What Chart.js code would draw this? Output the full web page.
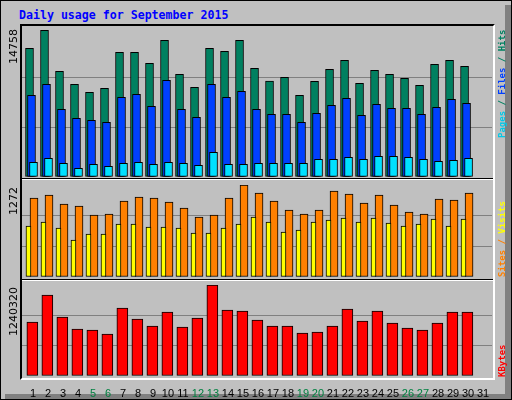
<!DOCTYPE html>
<html><head><meta charset="utf-8">
<script src="https://cdn.jsdelivr.net/npm/chart.js@4"></script>
<style>
html,body{margin:0;padding:0;background:#fff}
#wrap{position:relative;width:510px;height:398px;background:#C0C0C0;border:1px solid #000;overflow:hidden}
#bevR{position:absolute;left:504px;top:4px;width:6px;height:394px;background:#808080}
#bevB{position:absolute;left:4px;top:393px;width:506px;height:5px;background:#808080}
#title{position:absolute;left:18px;top:7px;font:bold 11.6px "DejaVu Sans Mono",monospace;color:#0000FF;white-space:pre}
#frame{position:absolute;left:19px;top:23px;width:471px;height:352px;border-top:2px solid #000;border-left:2px solid #000;border-bottom:2px solid #fff;border-right:2px solid #fff;background:#C0C0C0}
.sep{position:absolute;left:21px;width:471px;height:1px}
canvas{position:absolute;left:0}
</style></head><body>
<div id="wrap">
<div id="bevR"></div><div id="bevB"></div>
<div id="title">Daily usage for September 2015</div>
<div id="frame"></div>
<div class="sep" style="top:177px;background:#000"></div><div class="sep" style="top:178px;background:#fff"></div>
<div class="sep" style="top:278px;background:#000"></div><div class="sep" style="top:279px;background:#fff"></div>
<canvas id="c1" style="top:26px" width="512" height="150"></canvas>
<canvas id="c2" style="top:184px" width="512" height="92"></canvas>
<canvas id="c3" style="top:284px" width="512" height="115"></canvas>
</div>
<script>
const days=[1,2,3,4,5,6,7,8,9,10,11,12,13,14,15,16,17,18,19,20,21,22,23,24,25,26,27,28,29,30,31];
const weekend=[5,6,12,13,19,20,26,27];
const hits=[12659,14430,10396,9117,8330,8724,12266,12266,11183,13446,10101,8822,12659,12364,13446,10691,9445,9806,8035,9412,10593,11479,9216,10494,10101,9708,9019,11085,11479,10888,0];
const files=[8035,9117,6657,5772,5575,5379,7838,8133,6953,9511,6657,5870,9117,7838,8429,6657,6166,6166,5379,6264,7051,7740,6067,7149,6756,6756,6166,6854,7641,7248,0];
const pages=[1443,1837,1345,853,1246,1049,1345,1443,1246,1443,1345,1148,2427,1246,1246,1345,1345,1345,1345,1738,1738,1935,1738,2033,2033,1935,1738,1541,1640,1837,0];
const visits=[1092,1134,1009,982,857,871,1051,1106,1092,1037,954,830,857,1092,1272,1161,1051,926,871,926,1189,1148,1023,1134,995,899,871,1078,1065,1161,0];
const sites=[705,760,677,512,595,595,733,733,691,691,677,608,608,677,733,830,760,622,650,760,788,816,760,816,746,705,733,802,705,802,0];
const kbytes=[736000,1104000,804200,640600,627000,572500,926800,776900,681500,872300,667900,790500,1240320,899600,885900,763300,681500,681500,586100,599700,681500,913200,749600,885900,722400,654200,627000,722400,872300,872300,0];
const maxHits=14758, maxVisits=1272, maxK=1240320;

function ds(vals,off,color,w){
  return {data:days.map((d,i)=>({x:d-0.5+off,y:vals[i]})),backgroundColor:color,borderColor:'#000',borderWidth:1,barThickness:w,borderSkipped:false,grouped:false};
}
function labelsPlugin(maxLabel,parts,bottomOff){
  return {id:'lbl',afterDraw(ch){
    const c=ch.ctx,a=ch.chartArea;
    c.save();
    c.fillStyle='#000';c.font='11px "DejaVu Sans"';
    c.translate(19,a.top);c.rotate(-Math.PI/2);c.textAlign='right';c.textBaseline='bottom';
    c.fillText(maxLabel,-2,0);
    c.restore();
    c.save();
    c.font='bold 9px "DejaVu Sans Mono"';
    c.translate(502,a.top+bottomOff);c.rotate(-Math.PI/2);c.textAlign='left';c.textBaseline='middle';
    let x=0;
    for(const [t,col] of parts){c.fillStyle=col;c.fillText(t,x,0);x+=c.measureText(t).width;}
    c.restore();
  }};
}
function opts(max,showX){
  return {responsive:false,animation:false,events:[],
    layout:{padding:{left:21,right:21,top:0,bottom:0}},
    plugins:{legend:{display:false},tooltip:{enabled:false}},
    scales:{
      x:{type:'linear',offset:false,min:0,max:31.33,display:showX,grid:{display:false},border:{display:false},
        afterFit:s=>{if(showX)s.height=24;},
        afterBuildTicks:s=>{s.ticks=days.map(d=>({value:d-0.27}));},
        ticks:{autoSkip:false,maxRotation:0,padding:3,font:{family:'Liberation Sans',size:11},
          callback:(v,i)=>String(days[i]),
          color:ctx=>weekend.includes(days[ctx.index])?'#008040':'#000'}},
      y:{min:0,max:max,display:true,border:{display:false},
        afterFit:s=>{s.width=0;},
        afterBuildTicks:s=>{s.ticks=[{value:0},{value:max/3},{value:2*max/3},{value:max}];},
        ticks:{display:false},
        grid:{drawTicks:false,lineWidth:1,color:ctx=>(ctx.index===1||ctx.index===2)?'#808080':'rgba(0,0,0,0)'}}
    }};
}
new Chart(document.getElementById('c1'),{type:'bar',
  data:{datasets:[ds(pages,4/15,'#00E0FF',8),ds(files,2/15,'#0040FF',8),ds(hits,0,'#008060',8)]},
  options:opts(maxHits,false),
  plugins:[labelsPlugin('14758',[['Pages','#00C8E8'],[' / ','#008060'],['Files','#0040FF'],[' / ','#008060'],['Hits','#008060']],111)]});
new Chart(document.getElementById('c2'),{type:'bar',
  data:{datasets:[ds(sites,-0.07,'#FFFF00',5),ds(visits,0.3,'#FF8000',8)]},
  options:opts(maxVisits,false),
  plugins:[labelsPlugin('1272',[['Sites','#FF8000'],[' / ','#FF8000'],['Visits','#FFFF00']],92)]});
new Chart(document.getElementById('c3'),{type:'bar',
  data:{datasets:[ds(kbytes,0.19,'#FF0000',11)]},
  options:opts(maxK,true),
  plugins:[labelsPlugin('1240320',[['KBytes','#FF0000']],92)]});
</script>
</body></html>
